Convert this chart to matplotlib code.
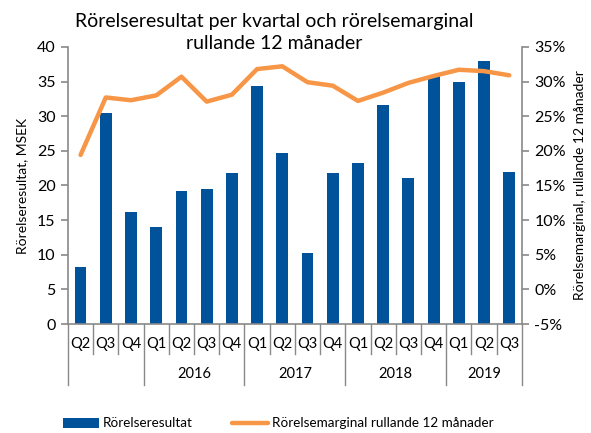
import matplotlib
matplotlib.use("Agg")
import matplotlib.pyplot as plt
from matplotlib.lines import Line2D
from matplotlib.patches import Patch
import matplotlib.transforms as mtransforms

plt.rcParams['font.family'] = ['Lato', 'DejaVu Sans']

quarters = ["Q2", "Q3", "Q4",
            "Q1", "Q2", "Q3", "Q4",
            "Q1", "Q2", "Q3", "Q4",
            "Q1", "Q2", "Q3", "Q4",
            "Q1", "Q2", "Q3"]
years = ["", "2016", "2017", "2018", "2019"]
quarters_per_year = [3, 4, 4, 4, 3]
rorelseresultat = [8.3, 30.4, 16.2, 14.0, 19.2, 19.5, 21.8, 34.4, 24.7, 10.3,
                   21.8, 23.2, 31.6, 21.1, 35.8, 35.0, 38.0, 21.9]
marginal = [19.4, 27.7, 27.3, 28.0, 30.7, 27.1, 28.1, 31.8, 32.2, 29.9,
            29.4, 27.2, 28.4, 29.8, 30.8, 31.7, 31.5, 30.9]

bar_color = "#00529B"
line_color = "#F79646"
axis_gray = "#898989"

fig = plt.figure(figsize=(5.91, 4.33), dpi=100)
ax = fig.add_axes([0.115, 0.2517, 0.768, 0.64])
ax2 = ax.twinx()

x = list(range(len(quarters)))
ax.bar(x, rorelseresultat, width=0.47, color=bar_color, zorder=2)
ax2.plot(x, marginal, color=line_color, lw=3.2, solid_capstyle='round',
         solid_joinstyle='round', zorder=3)

ax.set_xlim(-0.5, len(quarters) - 0.5)
ax.set_ylim(0, 40)
ax.set_yticks(range(0, 41, 5))
ax2.set_ylim(-5, 35)
ax2.set_yticks(range(-5, 36, 5))
ax2.set_yticklabels([f"{v}%" for v in range(-5, 36, 5)])

for a in (ax, ax2):
    for s in a.spines.values():
        s.set_visible(False)
ax.spines['left'].set_visible(True)
ax.spines['left'].set_color(axis_gray)
ax.spines['left'].set_linewidth(1.2)
ax.spines['bottom'].set_visible(True)
ax.spines['bottom'].set_color(axis_gray)
ax.spines['bottom'].set_linewidth(1.2)
ax2.spines['right'].set_visible(True)
ax2.spines['right'].set_color(axis_gray)
ax2.spines['right'].set_linewidth(1.2)

ax.tick_params(axis='y', length=5, width=1.2, color=axis_gray, labelsize=11.5, pad=4)
ax2.tick_params(axis='y', length=5, width=1.2, color=axis_gray, labelsize=11.5, pad=4)
ax.tick_params(axis='x', length=0, labelbottom=False)

ax.set_ylabel("Rörelseresultat, MSEK", fontsize=10, labelpad=6)
ax2.set_ylabel("Rörelsemarginal, rullande 12 månader", fontsize=10, labelpad=6)

trans = mtransforms.blended_transform_factory(ax.transData, ax.transAxes)
px = 1.0 / (0.64 * 433)
for i, q in enumerate(quarters):
    ax.text(i, -20 * px, q, transform=trans, ha='center', va='center',
            fontsize=10.5, clip_on=False)
# separators
pos = -0.5
year_bounds = [pos]
for n in quarters_per_year:
    pos += n
    year_bounds.append(pos)
for b in [i - 0.5 for i in range(len(quarters) + 1)]:
    depth = 61 if b in year_bounds else 30
    ax.add_line(Line2D([b, b], [0, -depth * px], transform=trans,
                       color=axis_gray, lw=1.0, clip_on=False))
for k, yr in enumerate(years):
    c = (year_bounds[k] + year_bounds[k + 1]) / 2
    ax.text(c, -50 * px, yr, transform=trans, ha='center', va='center',
            fontsize=10.5, clip_on=False)

fig.text(0.464, 0.925, "Rörelseresultat per kvartal och rörelsemarginal\nrullande 12 månader",
         ha='center', va='center', fontsize=14, linespacing=1.3)

handles = [Patch(facecolor=bar_color, edgecolor='none'),
           Line2D([0], [0], color=line_color, lw=3.2, solid_capstyle='round')]
fig.legend(handles, ["Rörelseresultat", "Rörelsemarginal rullande 12 månader"],
           loc='center', bbox_to_anchor=(0.471, 0.022), ncol=2, frameon=False,
           fontsize=9.7, handlelength=2.7, handleheight=0.8, columnspacing=2.9,
           handletextpad=0.3, borderpad=0.0)

fig.savefig("out.png", dpi=100)
